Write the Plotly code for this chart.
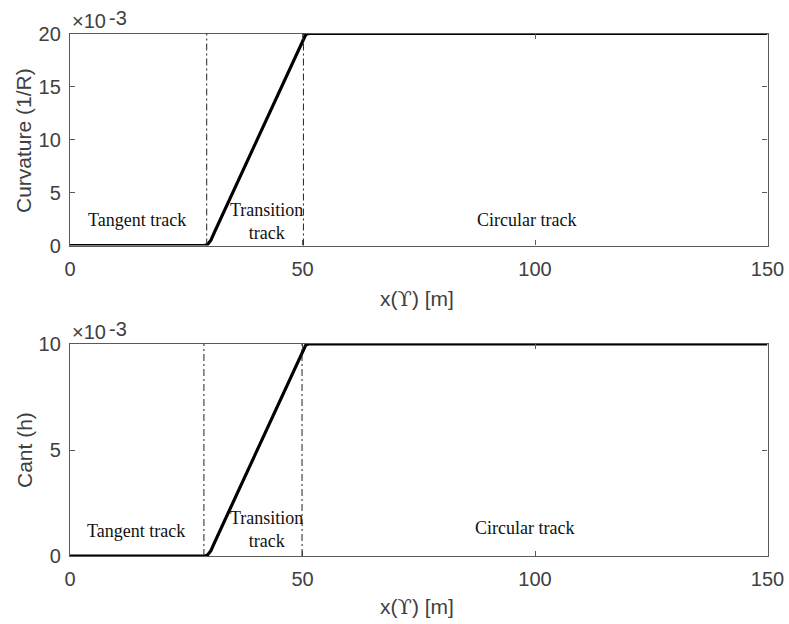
import plotly.graph_objects as go

# Track geometry along the alignment (values in units of 1e-3)
x_curv = [0, 29.0, 29.6, 30.3, 31.0, 49.4, 50.1, 50.7, 51.3, 150]
curvature_e3 = [0, 0, 0.1, 0.5, 1.2, 18.8, 19.5, 19.9, 20, 20]

x_cant = [0, 29.0, 29.6, 30.3, 31.0, 49.4, 50.1, 50.7, 51.3, 150]
cant_e3 = [0, 0, 0.05, 0.25, 0.6, 9.4, 9.75, 9.95, 10, 10]

# Section boundaries (tangent / transition / circular)
bounds_curv = [29.4, 50.2]
bounds_cant = [28.8, 49.9]

x_ticks = [0, 50, 100, 150]
curv_ticks = [0, 5, 10, 15, 20]
cant_ticks = [0, 5, 10]

W, H = 789, 624
left, right = 70, 767.5
top1, bot1 = 33.5, 245.5
top2, bot2 = 344, 556

def px_x(p):
    return p / W

def px_y(p):
    return 1 - p / H

AX_COL = "#5a5a5a"
TXT_COL = "#404040"
SANS = "Liberation Sans, Arial"
TICK_FONT = dict(family=SANS, size=20, color=TXT_COL)
SERIF = dict(family="Liberation Serif, Times New Roman", size=18, color="#111111")

fig = go.Figure()
fig.add_trace(go.Scatter(x=x_curv, y=curvature_e3, mode="lines",
                         line=dict(color="black", width=3.2),
                         xaxis="x", yaxis="y", showlegend=False, cliponaxis=False))
fig.add_trace(go.Scatter(x=x_cant, y=cant_e3, mode="lines",
                         line=dict(color="black", width=3.2),
                         xaxis="x2", yaxis="y2", showlegend=False, cliponaxis=False))

common_x = dict(range=[0, 150], tickvals=x_ticks, ticks="inside", ticklen=5,
                tickcolor=AX_COL, showline=True, linecolor=AX_COL, linewidth=1.3,
                mirror="ticks", showgrid=False, zeroline=False, tickfont=TICK_FONT,
                ticklabelstandoff=5, automargin=False, domain=[px_x(left), px_x(right)])
common_y = dict(ticks="inside", ticklen=5, tickcolor=AX_COL, showline=True,
                linecolor=AX_COL, linewidth=1.3, mirror="ticks", showgrid=False,
                zeroline=False, tickfont=TICK_FONT, ticklabelstandoff=4, automargin=False)

fig.update_layout(
    template="none",
    width=W, height=H, margin=dict(l=0, r=0, t=0, b=0, pad=0),
    paper_bgcolor="white", plot_bgcolor="white",
    xaxis=dict(**common_x, anchor="y"),
    yaxis=dict(**common_y, range=[0, 20], tickvals=curv_ticks, anchor="x",
               domain=[px_y(bot1), px_y(top1)]),
    xaxis2=dict(**common_x, anchor="y2"),
    yaxis2=dict(**common_y, range=[0, 10], tickvals=cant_ticks, anchor="x2",
                domain=[px_y(bot2), px_y(top2)]),
)

# Dash-dot section boundaries
BOUND_LINE = dict(color="#222222", width=1, dash="7px,3px,2px,3px")
for xv in bounds_curv:
    fig.add_shape(type="line", xref="x", yref="y domain", x0=xv, x1=xv, y0=0, y1=1,
                  line=BOUND_LINE)
for xv in bounds_cant:
    fig.add_shape(type="line", xref="x2", yref="y2 domain", x0=xv, x1=xv, y0=0, y1=1,
                  line=BOUND_LINE)

# Section labels
labels = [
    ("x", "y", 14.5, 2.4, "Tangent track"),
    ("x", "y", 42.3, 2.3, "Transition<br>track"),
    ("x", "y", 98.1, 2.4, "Circular track"),
    ("x2", "y2", 14.1, 1.2, "Tangent track"),
    ("x2", "y2", 42.2, 1.25, "Transition<br>track"),
    ("x2", "y2", 97.7, 1.3, "Circular track"),
]
for xr, yr, xv, yv, txt in labels:
    fig.add_annotation(xref=xr, yref=yr, x=xv, y=yv, text=txt, showarrow=False,
                       font=SERIF, align="center")

# Axis titles and exponent markers
AX_TITLE = dict(family=SANS, size=21, color=TXT_COL)
X_TITLE = 'x(<span style="font-family:DejaVu Serif">ϒ</span>) [m]'

def paper_text(xp, yp, txt, font, angle=0, xanchor="center"):
    fig.add_annotation(xref="paper", yref="paper", x=px_x(xp), y=px_y(yp), text=txt,
                       textangle=angle, showarrow=False, font=font,
                       xanchor=xanchor, yanchor="middle")

paper_text(24, 141, "Curvature (1/R)", AX_TITLE, angle=-90)
paper_text(24, (top2 + bot2) / 2, "Cant (h)", AX_TITLE, angle=-90)
paper_text(417, 299, X_TITLE, AX_TITLE)
paper_text(417, 607, X_TITLE, AX_TITLE)

EXP_FONT = dict(family=SANS, size=20, color=TXT_COL)
for top in (top1, top2):
    paper_text(70, top - 12, "×10", EXP_FONT, xanchor="left")
    paper_text(107, top - 15.5, "-3", EXP_FONT, xanchor="left")

fig.write_html("out.html")
